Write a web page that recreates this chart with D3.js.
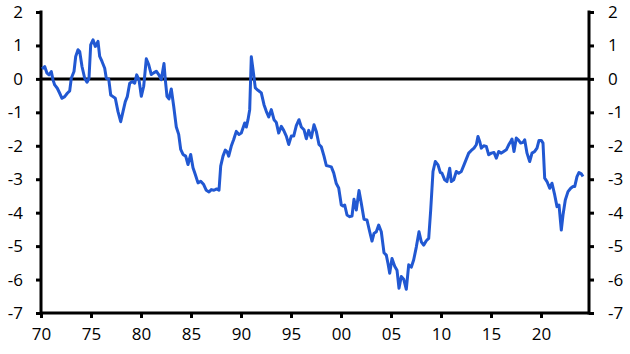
<!DOCTYPE html>
<html>
<head>
<meta charset="utf-8">
<script src="https://cdn.jsdelivr.net/npm/d3@7"></script>
<style>
  body { margin: 0; background: #fff; }
  text { font-family: "Open Sans", sans-serif; font-size: 17px; fill: #000; }
</style>
</head>
<body>
<div id="chart"></div>
<script>
// decimal years and values
var dates = [
  1970.1, 1970.37, 1970.6, 1970.8, 1971.03, 1971.2, 1971.37, 1971.63, 1971.87, 1972.1,
  1972.37, 1972.63, 1972.87, 1973.03, 1973.3, 1973.47, 1973.7, 1973.87, 1974.1, 1974.37,
  1974.6, 1974.8, 1974.97, 1975.2, 1975.43, 1975.7, 1975.87, 1976.1, 1976.37, 1976.53,
  1976.77, 1976.97, 1977.2, 1977.43, 1977.7, 1977.97, 1978.2, 1978.43, 1978.63, 1978.87,
  1979.13, 1979.37, 1979.57, 1979.8, 1980.03, 1980.27, 1980.53, 1980.77, 1981.03, 1981.27,
  1981.53, 1981.77, 1982.03, 1982.3, 1982.43, 1982.6, 1982.8, 1983.03, 1983.27, 1983.53,
  1983.77, 1983.97, 1984.2, 1984.47, 1984.7, 1984.97, 1985.2, 1985.43, 1985.7, 1985.97,
  1986.27, 1986.53, 1986.8, 1987.03, 1987.3, 1987.57, 1987.8, 1987.97, 1988.2, 1988.43,
  1988.63, 1988.77, 1989.03, 1989.27, 1989.53, 1989.8, 1990.03, 1990.2, 1990.37, 1990.53,
  1990.7, 1990.87, 1991.03, 1991.2, 1991.43, 1991.7, 1992.03, 1992.3, 1992.53, 1992.77,
  1993.03, 1993.3, 1993.53, 1993.77, 1994.03, 1994.27, 1994.53, 1994.77, 1995.03, 1995.27,
  1995.53, 1995.8, 1996.03, 1996.3, 1996.53, 1996.77, 1997.03, 1997.3, 1997.53, 1997.8,
  1998.03, 1998.3, 1998.53, 1998.77, 1999.03, 1999.27, 1999.53, 1999.77, 2000.03, 2000.2,
  2000.37, 2000.6, 2000.87, 2001.1, 2001.3, 2001.53, 2001.8, 2002.03, 2002.3, 2002.6,
  2002.87, 2003.1, 2003.3, 2003.53, 2003.77, 2004.03, 2004.3, 2004.53, 2004.7, 2004.87,
  2005.1, 2005.37, 2005.6, 2005.8, 2006.03, 2006.27, 2006.53, 2006.77, 2007.03, 2007.27,
  2007.53, 2007.8, 2008.03, 2008.27, 2008.53, 2008.77, 2008.97, 2009.2, 2009.43, 2009.7,
  2009.93, 2010.1, 2010.37, 2010.6, 2010.87, 2011.03, 2011.27, 2011.53, 2011.77, 2012.03,
  2012.3, 2012.53, 2012.77, 2013.03, 2013.3, 2013.53, 2013.7, 2013.87, 2014.03, 2014.27,
  2014.53, 2014.77, 2015.03, 2015.3, 2015.53, 2015.77, 2016.03, 2016.27, 2016.53, 2016.77,
  2016.97, 2017.1, 2017.3, 2017.53, 2017.77, 2017.97, 2018.2, 2018.37, 2018.6, 2018.87,
  2019.1, 2019.37, 2019.6, 2019.8, 2020.03, 2020.2, 2020.37, 2020.6, 2020.87, 2021.1,
  2021.37, 2021.6, 2021.8, 2022.03, 2022.2, 2022.43, 2022.7, 2022.97, 2023.2, 2023.37,
  2023.6, 2023.8, 2024.03, 2024.2
];
var values = [
  0.30, 0.37, 0.17, 0.12, 0.22, -0.03, -0.18, -0.28, -0.43, -0.58,
  -0.53, -0.43, -0.36, 0.02, 0.22, 0.67, 0.87, 0.82, 0.37, 0.02,
  -0.10, 0.02, 1.02, 1.17, 0.97, 1.12, 0.67, 0.52, 0.32, 0.02,
  0.00, -0.48, -0.53, -0.58, -0.98, -1.28, -0.98, -0.68, -0.53, -0.13,
  -0.08, -0.13, 0.12, -0.03, -0.52, -0.22, 0.60, 0.43, 0.13, 0.18,
  0.23, 0.13, -0.02, 0.46, -0.02, -0.52, -0.60, -0.30, -0.82, -1.44,
  -1.66, -2.11, -2.26, -2.31, -2.56, -2.26, -2.66, -2.86, -3.11, -3.06,
  -3.16, -3.33, -3.38, -3.31, -3.33, -3.29, -3.33, -2.61, -2.31, -2.13,
  -2.19, -2.31, -2.01, -1.81, -1.57, -1.66, -1.62, -1.47, -1.32, -1.44,
  -1.22, -0.92, 0.66, 0.28, -0.27, -0.34, -0.42, -0.77, -0.97, -1.14,
  -0.92, -1.22, -1.30, -1.62, -1.42, -1.54, -1.71, -1.96, -1.71, -1.71,
  -1.40, -1.22, -1.44, -1.52, -1.79, -1.54, -1.76, -1.37, -1.57, -1.96,
  -2.03, -2.31, -2.59, -2.61, -2.63, -2.81, -3.13, -3.26, -3.77, -3.80,
  -3.77, -4.07, -4.12, -4.10, -3.60, -3.92, -3.34, -3.72, -4.20, -4.22,
  -4.57, -4.85, -4.62, -4.57, -4.37, -4.57, -5.20, -5.27, -5.52, -5.81,
  -5.37, -5.60, -5.72, -6.26, -5.91, -5.99, -6.29, -5.56, -5.63, -5.41,
  -5.03, -4.57, -4.87, -4.97, -4.84, -4.77, -3.92, -2.77, -2.47, -2.57,
  -2.80, -2.82, -3.02, -3.07, -2.67, -3.07, -3.02, -2.77, -2.82, -2.77,
  -2.57, -2.40, -2.22, -2.14, -2.07, -1.97, -1.72, -1.87, -2.07, -2.00,
  -2.02, -2.27, -2.22, -2.20, -2.37, -2.17, -2.22, -2.17, -2.12, -1.97,
  -1.87, -1.80, -2.17, -1.77, -1.84, -1.92, -1.90, -1.82, -2.22, -2.47,
  -2.22, -2.17, -2.07, -1.84, -1.84, -1.92, -2.97, -3.07, -3.27, -3.12,
  -3.47, -3.82, -3.77, -4.52, -4.07, -3.62, -3.37, -3.27, -3.22, -3.22,
  -2.92, -2.80, -2.84, -2.92
];
var xTicks = [1970, 1975, 1980, 1985, 1990, 1995, 2000, 2005, 2010, 2015, 2020];
var yTicks = [2, 1, 0, -1, -2, -3, -4, -5, -6, -7];

var WIDTH = 630, HEIGHT = 354;
var plotLeft = 41, plotRight = 589, plotTop = 12, plotBottom = 313;

var data = dates.map((d, i) => ({ t: d, v: values[i] }));

var x = d3.scaleLinear().domain([1970, 2024.8]).range([plotLeft, plotRight]);
var y = d3.scaleLinear().domain([-7, 2]).range([plotBottom, plotTop]);

var svg = d3.select('#chart').append('svg')
    .attr('width', WIDTH)
    .attr('height', HEIGHT);

// plain hyphen for negatives, as in the original
var yFormat = d => String(d);

function styleAxis(g) {
    g.selectAll('.domain').remove();
    g.selectAll('.tick line').attr('stroke', '#000').attr('stroke-width', 3);
    g.selectAll('.tick text').attr('fill', '#000')
        .style('font-family', '"Open Sans", sans-serif').style('font-size', '17px');
}

// left axis
svg.append('g')
    .attr('transform', 'translate(' + plotLeft + ',0)')
    .call(d3.axisLeft(y).tickValues(yTicks).tickSize(5).tickPadding(13).tickFormat(yFormat))
    .call(styleAxis);

// right axis
svg.append('g')
    .attr('transform', 'translate(' + plotRight + ',0)')
    .call(d3.axisRight(y).tickValues(yTicks).tickSize(5).tickPadding(14).tickFormat(yFormat))
    .call(styleAxis);

// bottom axis
svg.append('g')
    .attr('transform', 'translate(0,' + plotBottom + ')')
    .call(d3.axisBottom(x).tickValues(xTicks).tickSize(5).tickPadding(10)
        .tickFormat(d => String(d % 100).padStart(2, '0')))
    .call(styleAxis);

// axis lines
svg.append('line').attr('x1', plotLeft).attr('x2', plotLeft).attr('y1', plotTop - 1.5).attr('y2', plotBottom + 1.5)
    .attr('stroke', '#000').attr('stroke-width', 3);
svg.append('line').attr('x1', plotRight).attr('x2', plotRight).attr('y1', plotTop - 1.5).attr('y2', plotBottom + 1.5)
    .attr('stroke', '#000').attr('stroke-width', 3);
svg.append('line').attr('x1', plotLeft).attr('x2', plotRight).attr('y1', plotBottom).attr('y2', plotBottom)
    .attr('stroke', '#000').attr('stroke-width', 3);

// zero line
svg.append('line').attr('x1', plotLeft).attr('x2', plotRight).attr('y1', y(0)).attr('y2', y(0))
    .attr('stroke', '#000').attr('stroke-width', 3);

// series
var line = d3.line().x(d => x(d.t)).y(d => y(d.v));
svg.append('path')
    .datum(data)
    .attr('d', line)
    .attr('fill', 'none')
    .attr('stroke', '#2158d2')
    .attr('stroke-width', 3)
    .attr('stroke-linejoin', 'round');
</script>
</body>
</html>
